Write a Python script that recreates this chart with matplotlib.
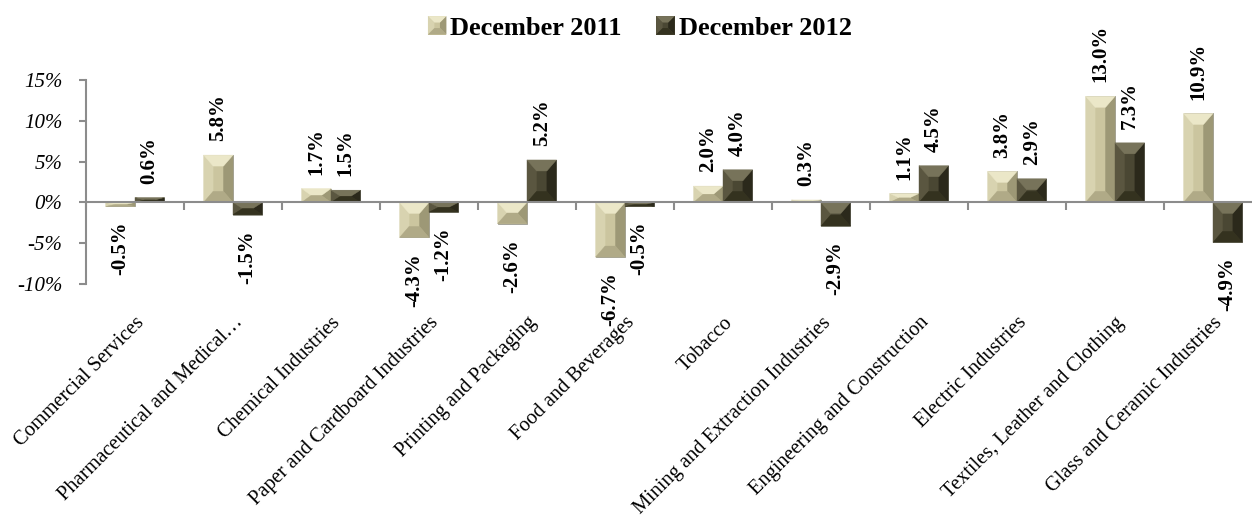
import numpy as np
import matplotlib
matplotlib.use("Agg")
import matplotlib.pyplot as plt
from matplotlib.patches import Polygon
from matplotlib.legend_handler import HandlerBase

# data
categories = ["Commercial Services", "Pharmaceutical and Medical\u2026", "Chemical Industries",
              "Paper and Cardboard Industries", "Printing and Packaging", "Food and Beverages",
              "Tobacco", "Mining and Extraction Industries", "Engineering and Construction",
              "Electric Industries", "Textiles, Leather and Clothing", "Glass and Ceramic Industries"]
dec_2011 = [-0.5, 5.8, 1.7, -4.3, -2.6, -6.7, 2.0, 0.3, 1.1, 3.8, 13.0, 10.9]
dec_2012 = [0.6, -1.5, 1.5, -1.2, 5.2, -0.5, 4.0, -2.9, 4.5, 2.9, 7.3, -4.9]
series_names = ["December 2011", "December 2012"]
y_ticks = [-10, -5, 0, 5, 10, 15]

# shades: center, top, bottom, left, right
light = dict(c="#cbc59f", t="#ebe7c8", b="#b0aa87", l="#d8d3b0", r="#9d9876")
dark = dict(c="#4a4733", t="#77735a", b="#34321f", l="#5a5640", r="#2b291b")

plt.rcParams['font.family'] = ['Liberation Serif', 'DejaVu Serif']

fig = plt.figure(figsize=(12.52, 5.15), dpi=100)
ax = fig.add_axes([86 / 1252, 231 / 515, 1176 / 1252, 204 / 515])

x = np.arange(len(categories))
w = 0.3
ax.set_xlim(-0.5, len(categories) - 0.5)
ax.set_ylim(-10, 15)

fig.canvas.draw()
# bevel size in data units (pixels -> data)
p0 = ax.transData.transform((0, 0))
p1 = ax.transData.transform((1, 1))
bx = 9.5 / (p1[0] - p0[0])
by = 11 / (p1[1] - p0[1])


def bevel(ax, x0, x1, y0, y1, sh, bx, by):
    h = y1 - y0
    byy = min(by, h / 2)
    bxx = min(bx, (x1 - x0) / 2)
    ix0, ix1, iy0, iy1 = x0 + bxx, x1 - bxx, y0 + byy, y1 - byy
    polys = [
        ([(x0, y0), (x0, y1), (ix0, iy1), (ix0, iy0)], sh["l"]),
        ([(x1, y0), (x1, y1), (ix1, iy1), (ix1, iy0)], sh["r"]),
        ([(x0, y1), (x1, y1), (ix1, iy1), (ix0, iy1)], sh["t"]),
        ([(x0, y0), (x1, y0), (ix1, iy0), (ix0, iy0)], sh["b"]),
    ]
    for pts, col in polys:
        ax.add_patch(Polygon(pts, closed=True, facecolor=col, edgecolor=col, linewidth=0.3, zorder=3))


for vals, off, sh in [(dec_2011, -w / 2, light), (dec_2012, w / 2, dark)]:
    bars = ax.bar(x + off, vals, width=w, color=sh["c"], edgecolor="#9a9a90", linewidth=0.6, zorder=2)
    for rect, v in zip(bars, vals):
        x0 = rect.get_x()
        x1 = x0 + rect.get_width()
        y0, y1 = min(0, v), max(0, v)
        bevel(ax, x0, x1, y0, y1, sh, bx, by)
        if v >= 0:
            ax.annotate(f"{v:.1f}%", (x0 + w / 2, v), xytext=(0, 10), textcoords="offset points",
                        rotation=90, ha="center", va="bottom", fontsize=15, fontweight="bold", zorder=5)
        else:
            ax.annotate(f"{v:.1f}%", (x0 + w / 2, v), xytext=(0, -11), textcoords="offset points",
                        rotation=90, ha="center", va="top", fontsize=15, fontweight="bold", zorder=5)

# axes styling
for s in ["top", "right", "bottom"]:
    ax.spines[s].set_visible(False)
ax.spines["left"].set_color("#8c8c8c")
ax.spines["left"].set_linewidth(1.5)
ax.axhline(0, color="#8c8c8c", linewidth=1.5, zorder=4)
bounds = np.arange(-0.5, len(categories) - 0.5, 1.0)
ax.plot(bounds, np.zeros_like(bounds), linestyle="none", marker=3, markersize=6,
        markeredgewidth=1.5, color="#8c8c8c", zorder=4, clip_on=False)

ax.set_yticks(y_ticks)
ax.set_yticklabels([f"{t}%" for t in y_ticks], fontsize=15, style="italic")
ax.tick_params(axis="y", length=5, width=1.5, color="#8c8c8c", pad=12)

ax.set_xticks(x)
ax.set_xticklabels(categories, fontsize=14.7, rotation=45, ha="right", va="top",
                   rotation_mode="anchor")
ax.tick_params(axis="x", length=0, pad=21)


class BevelHandler(HandlerBase):
    def __init__(self, sh):
        super().__init__()
        self.sh = sh

    def create_artists(self, legend, orig_handle, xdescent, ydescent, width, height, fontsize, trans):
        s = min(width, height * 1.2)
        x0, y0 = -xdescent + (width - s), -ydescent + (height - s) / 2
        x1, y1 = x0 + s, y0 + s
        b = s * 0.35
        sh = self.sh
        arts = [Polygon([(x0, y0), (x1, y0), (x1, y1), (x0, y1)], closed=True,
                        facecolor=sh["c"], edgecolor="none", transform=trans)]
        for pts, col in [
            ([(x0, y0), (x0, y1), (x0 + b, y1 - b), (x0 + b, y0 + b)], sh["l"]),
            ([(x1, y0), (x1, y1), (x1 - b, y1 - b), (x1 - b, y0 + b)], sh["r"]),
            ([(x0, y1), (x1, y1), (x1 - b, y1 - b), (x0 + b, y1 - b)], sh["t"]),
            ([(x0, y0), (x1, y0), (x1 - b, y0 + b), (x0 + b, y0 + b)], sh["b"]),
        ]:
            arts.append(Polygon(pts, closed=True, facecolor=col, edgecolor="none", transform=trans))
        return arts


h1 = Polygon([(0, 0)], label=series_names[0])
h2 = Polygon([(0, 0)], label=series_names[1])
fig.legend([h1, h2], series_names, loc="center", bbox_to_anchor=(0.511, 0.946), ncol=2,
           frameon=False, prop=dict(size=19, weight="bold"), handlelength=0.7,
           handletextpad=0.15, columnspacing=1.3,
           handler_map={h1: BevelHandler(light), h2: BevelHandler(dark)})

fig.savefig("out.png", dpi=100)
